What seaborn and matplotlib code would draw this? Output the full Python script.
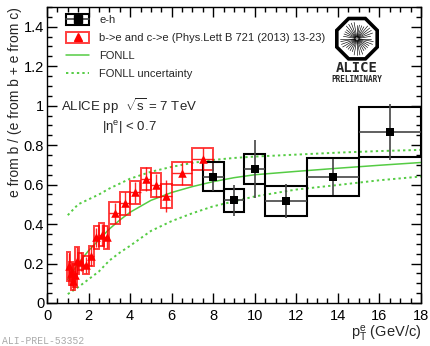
import numpy as np
import pandas as pd
import matplotlib
matplotlib.use("Agg")
import matplotlib.pyplot as plt
import seaborn as sns
from matplotlib.patches import Rectangle, RegularPolygon
from matplotlib.lines import Line2D
from matplotlib.ticker import MultipleLocator, FuncFormatter
from matplotlib.legend_handler import HandlerTuple

# ---------------- data ----------------
# e-h correlation measurement
eh_pt = [8.0, 9.0, 10.0, 11.5, 13.75, 16.5]
eh_lo = [7.5, 8.5, 9.5, 10.5, 12.5, 15.0]
eh_hi = [8.5, 9.5, 10.5, 12.5, 15.0, 18.0]
eh_val = [0.640, 0.520, 0.680, 0.518, 0.638, 0.867]
eh_stat = [0.07, 0.08, 0.147, 0.085, 0.09, 0.142]
eh_sys = [0.074, 0.059, 0.076, 0.076, 0.095, 0.127]

# b->e and c->e (Phys.Lett B 721 (2013) 13-23)
ref_pt = [1.05, 1.15, 1.25, 1.35, 1.45, 1.625, 1.875, 2.125, 2.375, 2.625,
          2.875, 3.25, 3.75, 4.25, 4.75, 5.25, 5.75, 6.5, 7.5]
ref_lo = [0.97, 1.07, 1.17, 1.27, 1.37, 1.5, 1.75, 2.0, 2.25, 2.5,
          2.75, 3.0, 3.5, 4.0, 4.5, 5.0, 5.5, 6.0, 7.0]
ref_hi = [1.13, 1.23, 1.33, 1.43, 1.53, 1.75, 2.0, 2.25, 2.5, 2.75,
          3.0, 3.5, 4.0, 4.5, 5.0, 5.5, 6.0, 7.0, 8.0]
ref_val = [0.185, 0.150, 0.110, 0.140, 0.215, 0.210, 0.193, 0.238, 0.332, 0.345,
           0.334, 0.456, 0.506, 0.560, 0.627, 0.596, 0.543, 0.657, 0.730]
ref_stat = [0.07, 0.06, 0.04, 0.05, 0.07, 0.05, 0.04, 0.05, 0.05, 0.055,
            0.055, 0.05, 0.055, 0.055, 0.06, 0.06, 0.08, 0.06, 0.055]
ref_sys = [0.075, 0.06, 0.045, 0.06, 0.07, 0.045, 0.045, 0.05, 0.06, 0.058,
           0.058, 0.058, 0.058, 0.058, 0.056, 0.061, 0.061, 0.059, 0.055]

# FONLL prediction
fonll_pt = [1.0, 1.5, 2.0, 2.5, 3.0, 3.5, 4.0, 5.0, 6.0, 7.0, 8.0, 9.0, 10.0,
            12.0, 14.0, 16.0, 18.0]
fonll_c = [0.12, 0.20, 0.265, 0.32, 0.375, 0.42, 0.46, 0.52, 0.56, 0.59, 0.615,
           0.635, 0.65, 0.667, 0.683, 0.698, 0.712]
fonll_up = [0.445, 0.50, 0.525, 0.55, 0.58, 0.605, 0.63, 0.665, 0.69, 0.71, 0.725,
            0.735, 0.742, 0.752, 0.762, 0.770, 0.776]
fonll_dn = [0.045, 0.08, 0.12, 0.16, 0.215, 0.255, 0.29, 0.365, 0.415, 0.455, 0.49,
            0.515, 0.54, 0.575, 0.598, 0.622, 0.641]

xticks = [0, 2, 4, 6, 8, 10, 12, 14, 16, 18]
yticks = [0, 0.2, 0.4, 0.6, 0.8, 1.0, 1.2, 1.4]

# ---------------- style ----------------
sns.set_theme(style="ticks")
plt.rcParams['font.family'] = ['Liberation Sans', 'DejaVu Sans']
plt.rcParams['mathtext.fontset'] = 'custom'
plt.rcParams['mathtext.rm'] = 'Liberation Sans'
plt.rcParams['mathtext.it'] = 'Liberation Sans:italic'
plt.rcParams['mathtext.sf'] = 'Liberation Sans'

GREEN = "#55cc44"
RED = "#ff0000"

fig = plt.figure(figsize=(4.3, 3.46), dpi=100)
ax = fig.add_axes([47 / 430, 1 - 303 / 346, 374 / 430, 296 / 346])

eh = pd.DataFrame(dict(pt=eh_pt, lo=eh_lo, hi=eh_hi, val=eh_val, stat=eh_stat, sys=eh_sys))
rf = pd.DataFrame(dict(pt=ref_pt, lo=ref_lo, hi=ref_hi, val=ref_val, stat=ref_stat, sys=ref_sys))
fl = pd.DataFrame(dict(pt=fonll_pt, c=fonll_c, up=fonll_up, dn=fonll_dn))

# FONLL curves
sns.lineplot(data=fl, x="pt", y="c", ax=ax, color=GREEN, lw=1.1, zorder=2)
sns.lineplot(data=fl, x="pt", y="up", ax=ax, color=GREEN, lw=1.4,
             linestyle=(0, (1.2, 1.6)), zorder=2)
sns.lineplot(data=fl, x="pt", y="dn", ax=ax, color=GREEN, lw=1.4,
             linestyle=(0, (1.2, 1.6)), zorder=2)

# systematic boxes
for _, r in rf.iterrows():
    ax.add_patch(Rectangle((r.lo, r.val - r.sys), r.hi - r.lo, 2 * r.sys,
                           fill=False, edgecolor=RED, lw=1.4, alpha=0.75, zorder=3))
for _, r in eh.iterrows():
    ax.add_patch(Rectangle((r.lo, r.val - r.sys), r.hi - r.lo, 2 * r.sys,
                           fill=False, edgecolor="black", lw=1.5, zorder=3))

# error bars
ax.errorbar(rf.pt, rf.val, yerr=rf.stat,
            xerr=[rf.pt - rf.lo, rf.hi - rf.pt],
            fmt="none", ecolor=RED, elinewidth=1.0, alpha=0.85, zorder=4)
ax.errorbar(eh.pt, eh.val, yerr=eh.stat,
            xerr=[eh.pt - eh.lo, eh.hi - eh.pt],
            fmt="none", ecolor="#444444", elinewidth=1.2, zorder=4)

# markers
sns.scatterplot(data=rf, x="pt", y="val", ax=ax, marker="^", s=38, color=RED,
                edgecolor=RED, linewidth=0, zorder=5)
sns.scatterplot(data=eh, x="pt", y="val", ax=ax, marker="s", s=30, color="black",
                edgecolor="black", linewidth=0, zorder=5)

# axes
ax.set_xlim(0, 18)
ax.set_ylim(0, 1.5)
ax.set_xticks(xticks)
ax.set_yticks(yticks)
ax.xaxis.set_minor_locator(MultipleLocator(0.5))
ax.yaxis.set_minor_locator(MultipleLocator(0.05))
ax.yaxis.set_major_formatter(FuncFormatter(lambda v, p: f"{v:g}"))
ax.xaxis.set_major_formatter(FuncFormatter(lambda v, p: f"{v:g}"))
ax.tick_params(which="both", direction="in", top=True, right=True,
               width=1.0, colors="black", labelsize=10.5)
ax.tick_params(which="major", length=7)
ax.tick_params(which="minor", length=3.5)
ax.tick_params(axis="y", pad=2)
ax.tick_params(axis="x", pad=4)
for s in ax.spines.values():
    s.set_linewidth(1.0)
    s.set_color("black")

ax.set_xlabel(r"$\mathregular{p_{T}^{e}}$ (GeV/c)", loc="right", fontsize=10.5, labelpad=1)
ax.set_ylabel("e from b / (e from b + e from c)", loc="top", fontsize=10, labelpad=1)

# legend
h_eh = (Rectangle((0, 0), 1, 1, fill=False, edgecolor="black", lw=1.5),
        Line2D([], [], color="#444444", lw=1.2),
        Line2D([], [], marker="s", color="black", linestyle="none", markersize=5.5))
h_rf = (Rectangle((0, 0), 1, 1, fill=False, edgecolor=RED, lw=1.4, alpha=0.75),
        Line2D([], [], marker="^", color=RED, linestyle="none", markersize=6))
h_c = Line2D([], [], color=GREEN, lw=1.1)
h_u = Line2D([], [], color=GREEN, lw=1.4, linestyle=(0, (1.2, 1.6)))
leg = ax.legend([h_eh, h_rf, h_c, h_u],
                ["e-h", "b->e and c->e (Phys.Lett B 721 (2013) 13-23)", "FONLL",
                 "FONLL uncertainty"],
                handler_map={tuple: HandlerTuple(ndivide=1)},
                loc="upper left", bbox_to_anchor=(66 / 430, 1 - 14 / 346),
                bbox_transform=fig.transFigure, frameon=False, fontsize=8,
                handlelength=2.1, handleheight=1.1, handletextpad=0.9,
                labelspacing=0.62, borderpad=0, borderaxespad=0)

# annotations
fig.text(129 / 430, 1 - 106 / 346, r"ALICE pp  $\sqrt{\mathregular{s}}$ = 7 TeV",
         ha="center", va="center", fontsize=9.5)
fig.text(129 / 430, 1 - 127 / 346, r"$\mathregular{|\eta^{e}|}$ < 0.7",
         ha="center", va="center", fontsize=9.5)

# ALICE logo
lax = fig.add_axes([(357 - 23) / 430, 1 - (38.7 + 23) / 346, 46 / 430, 46 / 346])
lax.set_xlim(-1, 1)
lax.set_ylim(-1, 1)
lax.axis("off")
lax.add_patch(RegularPolygon((0, 0), numVertices=8, radius=0.95,
                             orientation=np.pi / 8, fill=False,
                             edgecolor="black", lw=2.6))
for ang in np.linspace(0, 2 * np.pi, 36, endpoint=False):
    r1 = 0.72 if int(round(ang * 10)) % 2 else 0.6
    lax.plot([0.08 * np.cos(ang), r1 * np.cos(ang)],
             [0.08 * np.sin(ang), r1 * np.sin(ang)], color="black", lw=0.45)
lax.add_patch(plt.Circle((0, 0), 0.1, color="#999999"))
fig.text(357 / 430, 1 - 67.5 / 346, "ALICE", ha="center", va="center",
         family="DejaVu Sans Mono", weight="bold", fontsize=10)
fig.text(357 / 430, 1 - 79.5 / 346, "PRELIMINARY", ha="center", va="center",
         family="DejaVu Sans Mono", weight="bold", fontsize=5.6)

fig.text(2 / 430, 1 - 341 / 346, "ALI-PREL-53352", ha="left", va="center",
         family="Liberation Mono", fontsize=7, color="#aaaaaa")

fig.savefig("out.png", dpi=100)
